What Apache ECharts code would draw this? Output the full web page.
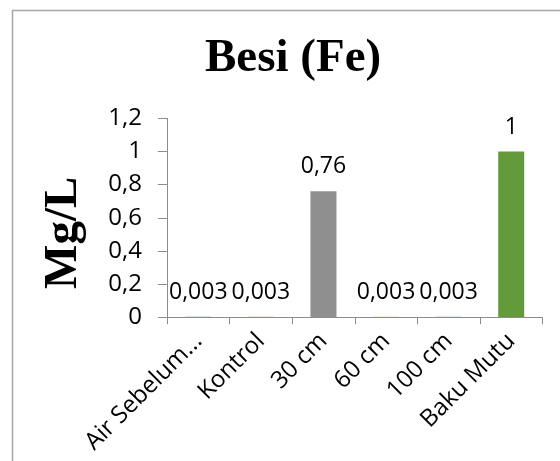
<!DOCTYPE html>
<html>
<head>
<meta charset="utf-8">
<script src="https://cdn.jsdelivr.net/npm/echarts@6/dist/echarts.min.js"></script>
<style>html,body{margin:0;padding:0;background:#fff;}#c{width:560px;height:461px;}</style>
</head>
<body>
<div id="c"></div>
<script>
const titleText = 'Besi (Fe)';
const yAxisName = 'Mg/L';
const categories = ['Air Sebelum...', 'Kontrol', '30 cm', '60 cm', '100 cm', 'Baku Mutu'];
const values = [0.003, 0.003, 0.76, 0.003, 0.003, 1];
const barColors = ['#4a72b8', '#d9772f', '#8f8f8f', '#e0b020', '#4f86c0', '#629a3c'];
const yMin = 0, yMax = 1.2, yStep = 0.2;

const fmt = v => String(v).replace('.', ',');
const chart = echarts.init(document.getElementById('c'), null, {renderer: 'canvas'});
chart.setOption({
  animation: false,
  backgroundColor: '#ffffff',
  graphic: [{
    type: 'rect', shape: {x: 12.5, y: 10.5, width: 600, height: 500},
    style: {fill: 'none', stroke: '#a6a6a6', lineWidth: 1.5}, silent: true
  }],
  title: {
    text: titleText, left: 200, top: 30,
    textStyle: {fontFamily: 'Liberation Serif', fontWeight: 'bold', fontSize: 47, color: '#000'}
  },
  grid: {left: 167, right: 17.5, top: 118.3, bottom: 143.7, containLabel: false},
  xAxis: {
    type: 'category', data: categories, z: 5,
    axisLine: {lineStyle: {color: '#8c8c8c', width: 1}},
    axisTick: {show: true, length: 7, lineStyle: {color: '#8c8c8c'}},
    axisLabel: {rotate: 45, margin: 20, interval: 0, fontFamily: 'Open Sans', fontSize: 24, color: '#000',
      padding: [0, 0, 0, 0]}
  },
  yAxis: {
    type: 'value', min: yMin, max: yMax, interval: yStep,
    name: yAxisName, nameLocation: 'middle', nameGap: 80,
    nameTextStyle: {fontFamily: 'Liberation Serif', fontWeight: 'bold', fontSize: 47, color: '#000', padding: [0, 30, 0, 0]},
    splitLine: {show: false},
    axisLine: {show: true, lineStyle: {color: '#8c8c8c', width: 1}},
    axisTick: {show: true, length: 9, lineStyle: {color: '#8c8c8c'}},
    axisLabel: {margin: 25, fontFamily: 'Open Sans', fontSize: 24, color: '#000', formatter: v => fmt(+v.toFixed(1))}
  },
  series: [{
    type: 'bar', barWidth: 26,
    data: values.map((v, i) => ({value: v, itemStyle: {color: barColors[i]}})),
    label: {show: true, position: 'top', distance: 13, fontFamily: 'Open Sans', fontSize: 23, color: '#000',
      formatter: p => fmt(p.value)}
  }]
});
</script>
</body>
</html>
